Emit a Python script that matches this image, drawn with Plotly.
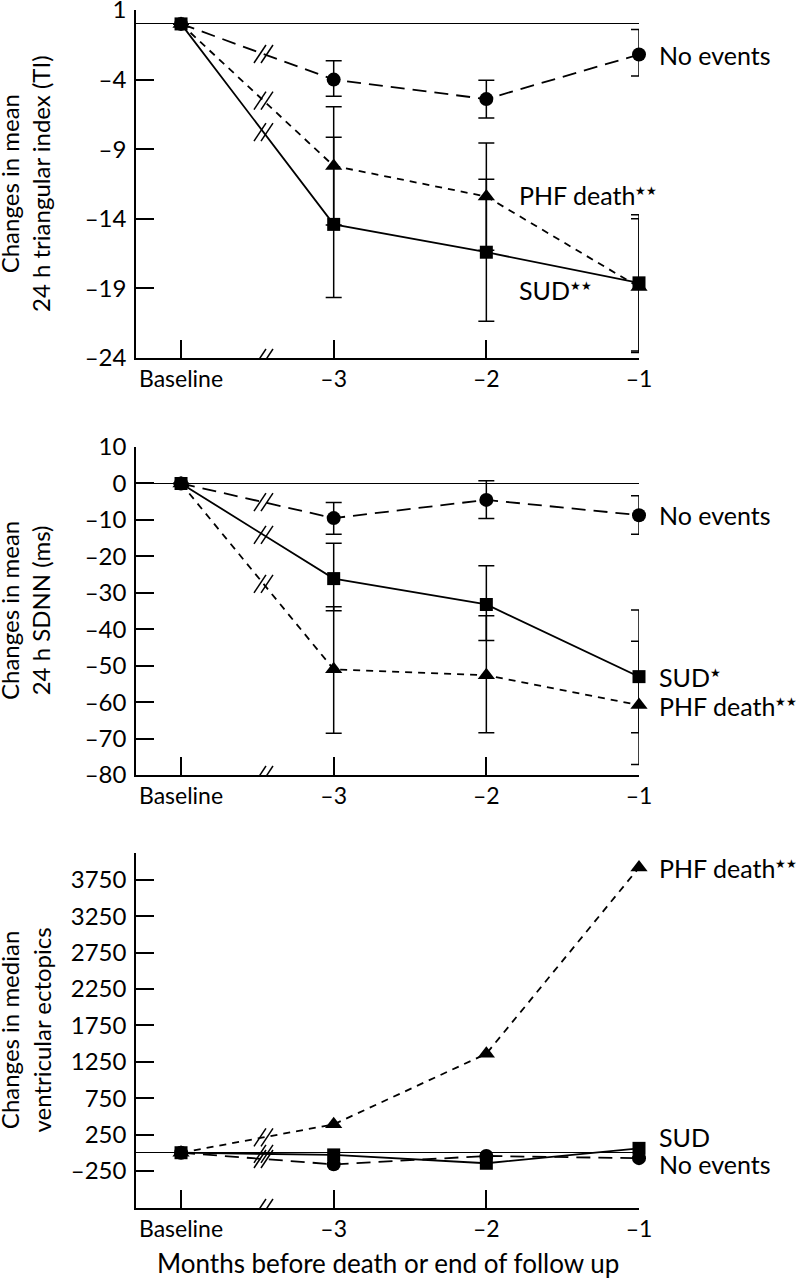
import plotly.graph_objects as go

FONT = "Lato"

# ---------------- data ----------------
x_pos = [-4, -3, -2, -1]
x_ticktext = ["Baseline", "–3", "–2", "–1"]

# Panel 1: change in mean 24 h triangular index (TI)
ti_no_events = [0, -4.0, -5.4, -2.2]
ti_no_events_hi = [None, -2.65, -4.05, -0.4]
ti_no_events_lo = [None, -5.2, -6.75, -3.75]
ti_phf = [0, -10.2, -12.4, -18.9]
ti_phf_hi = [None, -5.95, -8.55, -14.0]
ti_phf_lo = [None, -14.45, -16.25, -23.6]
ti_sud = [0, -14.4, -16.4, -18.6]
ti_sud_hi = [None, -8.15, -11.15, -13.7]
ti_sud_lo = [None, -19.65, -21.35, -23.5]
ti_ticks = [1, -4, -9, -14, -19, -24]

# Panel 2: change in mean 24 h SDNN (ms)
sd_no_events = [0, -9.5, -4.5, -8.7]
sd_no_events_hi = [None, -5.2, 0.75, -3.4]
sd_no_events_lo = [None, -13.9, -9.6, -13.9]
sd_sud = [0, -26.1, -33.2, -53.0]
sd_sud_hi = [None, -16.4, -22.6, -34.7]
sd_sud_lo = [None, -34.9, -43.1, -68.4]
sd_phf = [0, -51.0, -52.6, -60.8]
sd_phf_hi = [None, -33.8, -36.3, -43.3]
sd_phf_lo = [None, -68.5, -68.4, -77.1]
sd_ticks = [10, 0, -10, -20, -30, -40, -50, -60, -70, -80]

# Panel 3: change in median ventricular ectopics
ve_phf = [0, 390, 1360, 3920]
ve_sud = [0, -30, -145, 60]
ve_no_events = [0, -160, -45, -75]
ve_ticks = [-250, 250, 750, 1250, 1750, 2250, 2750, 3250, 3750]

# ---------------- styles ----------------
STYLE = {
    "ne": dict(dash="14px,8px", symbol="circle", size=14),
    "phf": dict(dash="7px,6px", symbol="triangle-up", size=15),
    "sud": dict(dash="solid", symbol="square", size=13),
}
BREAK_T = 0.54


def tl(v):
    return ("–" + str(abs(v))) if v < 0 else str(v)


fig = go.Figure()
shapes = []


def add_break(xa, ya, xb, yb):
    for dx in (-3.5, 3.5):
        shapes.append(dict(type="line", xref=xa, yref=ya,
                           xsizemode="pixel", ysizemode="pixel",
                           xanchor=xb, yanchor=yb,
                           x0=dx - 6, x1=dx + 6, y0=-9, y1=9,
                           line=dict(color="black", width=1.5)))


def add_series(key, vals, hi, lo, xa, ya):
    st = STYLE[key]
    err = None
    if hi is not None:
        plus = [None if h is None else h - v for h, v in zip(hi, vals)]
        minus = [None if l is None else v - l for l, v in zip(lo, vals)]
        err = dict(type="data", symmetric=False, array=plus, arrayminus=minus,
                   color="black", thickness=1.5, width=8)
    fig.add_trace(go.Scatter(
        x=x_pos, y=vals, xaxis=xa, yaxis=ya, mode="lines+markers",
        line=dict(color="black", width=1.8, dash=st["dash"]),
        marker=dict(symbol=st["symbol"], size=st["size"], color="black"),
        error_y=err, cliponaxis=False, showlegend=False, hoverinfo="skip"))
    xb = x_pos[0] + BREAK_T * (x_pos[1] - x_pos[0])
    yb = vals[0] + BREAK_T * (vals[1] - vals[0])
    add_break(xa, ya, xb, yb)


add_series("ne", ti_no_events, ti_no_events_hi, ti_no_events_lo, "x", "y")
add_series("phf", ti_phf, ti_phf_hi, ti_phf_lo, "x", "y")
add_series("sud", ti_sud, ti_sud_hi, ti_sud_lo, "x", "y")

add_series("ne", sd_no_events, sd_no_events_hi, sd_no_events_lo, "x2", "y2")
add_series("sud", sd_sud, sd_sud_hi, sd_sud_lo, "x2", "y2")
add_series("phf", sd_phf, sd_phf_hi, sd_phf_lo, "x2", "y2")

add_series("phf", ve_phf, None, None, "x3", "y3")
add_series("ne", ve_no_events, None, None, "x3", "y3")
add_series("sud", ve_sud, None, None, "x3", "y3")

X_RANGE = [-4.295, -1]
Y_RANGES = {"y": [-24, 1], "y2": [-80, 10], "y3": [-760, 4120]}
for ax in ("y", "y2", "y3"):
    xa = "x" if ax == "y" else "x" + ax[1:]
    xb = x_pos[0] + BREAK_T * (x_pos[1] - x_pos[0])
    add_break(xa, ax, xb, Y_RANGES[ax][0])

common = dict(showline=True, linecolor="black", linewidth=1.5, ticks="inside",
              ticklen=18, tickwidth=1.5, tickcolor="black", showgrid=False,
              automargin=False, ticklabeloverflow="allow")

xcommon = dict(common, range=X_RANGE, tickvals=x_pos, ticktext=x_ticktext,
               zeroline=False, domain=[0, 1], ticklabelstandoff=0,
               tickfont=dict(family=FONT, size=23, color="black"))
ycommon = dict(common, zeroline=True, zerolinecolor="black", zerolinewidth=1.3,
               ticklabelstandoff=3,
               tickfont=dict(family=FONT, size=24, color="black"))

LABEL = dict(family=FONT, size=25, color="black")
STAR2 = "<sup><span style='font-size:12px'>★★</span></sup>"
STAR1 = "<sup><span style='font-size:12px'>★</span></sup>"

labels = [
    ("x", "y", -1, -2.2, 18, "No events"),
    ("x", "y", -2, -12.3, 31, "PHF death" + STAR2),
    ("x", "y", -2, -19.1, 31, "SUD" + STAR2),
    ("x2", "y2", -1, -8.7, 18, "No events"),
    ("x2", "y2", -1, -53.0, 18, "SUD" + STAR1),
    ("x2", "y2", -1, -61.1, 18, "PHF death" + STAR2),
    ("x3", "y3", -1, 3915, 18, "PHF death" + STAR2),
    ("x3", "y3", -1, 215, 18, "SUD"),
    ("x3", "y3", -1, -160, 18, "No events"),
]
annotations = []
for xr, yr, xv, yv, xs, txt in labels:
    annotations.append(dict(xref=xr, yref=yr, x=xv, y=yv, xshift=xs,
                            xanchor="left", yanchor="middle", showarrow=False,
                            text=txt, font=LABEL))

ytitles = [
    ("y", "Changes in mean<br>24 h triangular index (TI)"),
    ("y2", "Changes in mean<br>24 h SDNN (ms)"),
    ("y3", "Changes in median<br>ventricular ectopics"),
]
for yr, txt in ytitles:
    annotations.append(dict(xref="paper", yref=yr + " domain", x=0, y=0.5,
                            xanchor="right", yanchor="middle", xshift=-79,
                            textangle=-90, showarrow=False, text=txt,
                            font=dict(family=FONT, size=24, color="black")))

annotations.append(dict(xref="paper", yref="paper", x=0.5, y=0, yshift=-55,
                        xanchor="center", yanchor="middle", showarrow=False,
                        text="Months before death or end of follow up",
                        font=dict(family=FONT, size=26, color="black")))

fig.update_layout(
    width=796, height=1280,
    margin=dict(l=136, r=157, t=10, b=72, autoexpand=False),
    paper_bgcolor="white", plot_bgcolor="white",
    font=dict(family=FONT, color="black"),
    xaxis=dict(xcommon, anchor="y"),
    xaxis2=dict(xcommon, anchor="y2"),
    xaxis3=dict(xcommon, anchor="y3"),
    yaxis=dict(ycommon, anchor="x", domain=[0.7095, 1.0], range=Y_RANGES["y"],
               tickvals=ti_ticks, ticktext=[tl(v) for v in ti_ticks]),
    yaxis2=dict(ycommon, anchor="x2", domain=[0.3614, 0.6352], range=Y_RANGES["y2"],
                tickvals=sd_ticks, ticktext=[tl(v) for v in sd_ticks]),
    yaxis3=dict(ycommon, anchor="x3", domain=[0.0, 0.2963], range=Y_RANGES["y3"],
                tickvals=ve_ticks, ticktext=[tl(v) for v in ve_ticks]),
    shapes=shapes,
    annotations=annotations,
)

# remove the page's default 8px body margin so the figure fills the window
fig.write_html("out.html",
               config={"displayModeBar": False},
               post_script="document.body.style.margin='0px';"
                           "document.body.style.padding='0px';")
